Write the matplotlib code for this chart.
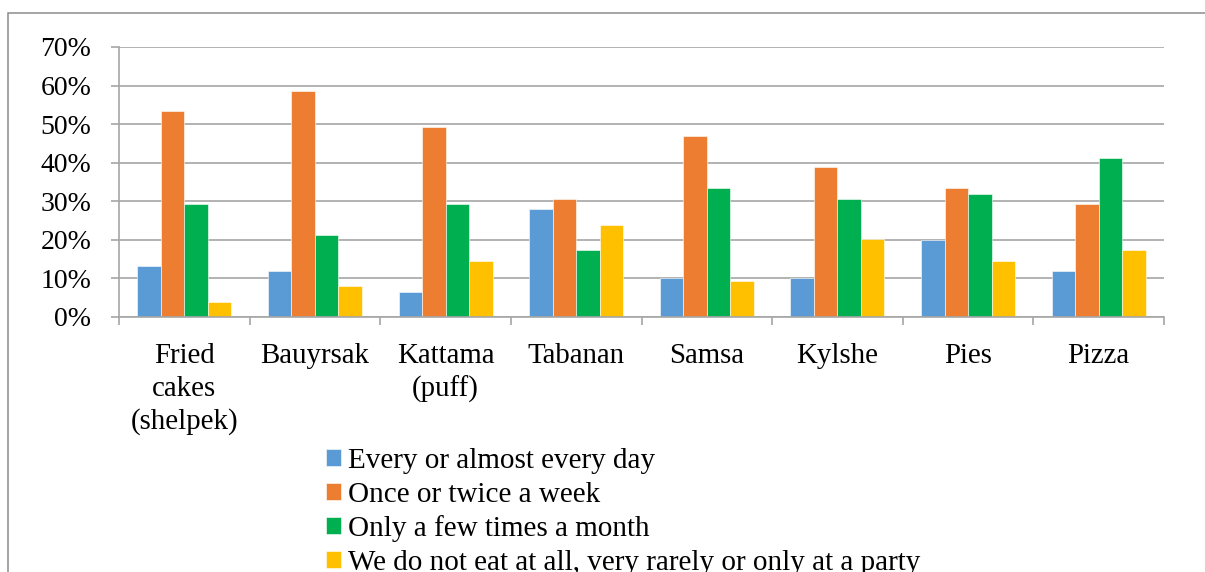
import numpy as np
import matplotlib.pyplot as plt
from matplotlib.patches import Rectangle

plt.rcParams['font.family'] = ['Liberation Serif', 'DejaVu Serif']

foods = ["Fried\ncakes\n(shelpek)", "Bauyrsak", "Kattama\n(puff)", "Tabanan",
         "Samsa", "Kylshe", "Pies", "Pizza"]

every_day = [13.2, 11.9, 6.6, 27.9, 10.0, 10.0, 20.0, 11.9]
weekly = [53.3, 58.7, 49.3, 30.6, 46.9, 39.0, 33.4, 29.3]
monthly = [29.3, 21.3, 29.3, 17.3, 33.4, 30.5, 31.9, 41.2]
rarely = [3.9, 8.0, 14.5, 23.9, 9.3, 20.1, 14.5, 17.3]

series = [
    ("Every or almost every day", every_day, "#5B9BD5"),
    ("Once or twice a week", weekly, "#ED7D31"),
    ("Only a few times a month", monthly, "#00B050"),
    ("We do not eat at all, very rarely or only at a party", rarely, "#FFC000"),
]

fig = plt.figure(figsize=(12.05, 5.72), dpi=100)
ax = fig.add_axes([119 / 1205, 1 - 317 / 572, (1164 - 119) / 1205, 270 / 572])

# outer chart frame, running off the right and bottom edges
fig.patches.append(Rectangle((8 / 1205, -0.1), 1.2, 1 - 13 / 572 + 0.1,
                             transform=fig.transFigure, fill=False,
                             edgecolor="#8C8C8C", linewidth=1.1))

x = np.arange(len(foods))
w = 0.18
handles = []
for i, (name, vals, color) in enumerate(series):
    b = ax.bar(x + (i - 1.5) * w, vals, w, color=color, label=name,
               edgecolor="white", linewidth=0.4)
    handles.append(b)

ax.set_xlim(-0.5, len(foods) - 0.5)
ax.set_ylim(0, 70)
ax.set_yticks(range(0, 71, 10))
ax.set_yticklabels([f"{v}%" for v in range(0, 71, 10)], fontsize=20)
ax.set_xticks(x)
ax.set_xticklabels(foods, fontsize=20.8, linespacing=1.32)
ax.set_xticks(np.arange(-0.5, len(foods), 1), minor=True)

grid_col = "#A6A6A6"
ax.set_axisbelow(True)
ax.yaxis.grid(True, color=grid_col, linewidth=1.2)
ax.tick_params(axis="y", length=6, width=1.2, color=grid_col, pad=14)
ax.tick_params(axis="x", which="major", length=0, pad=19)
ax.tick_params(axis="x", which="minor", length=6, width=1.2, color=grid_col)

for s in ["top", "right"]:
    ax.spines[s].set_visible(False)
for s in ["left", "bottom"]:
    ax.spines[s].set_color(grid_col)
    ax.spines[s].set_linewidth(1.2)

ax.legend(handles=handles, loc="upper left", bbox_to_anchor=(326 / 1205, 1 - 448 / 572),
          bbox_transform=fig.transFigure, frameon=False, fontsize=21,
          handlelength=0.52, handleheight=0.52, handletextpad=0.25,
          labelspacing=0.26, borderaxespad=0, borderpad=0)

fig.savefig("out.png", dpi=100)
